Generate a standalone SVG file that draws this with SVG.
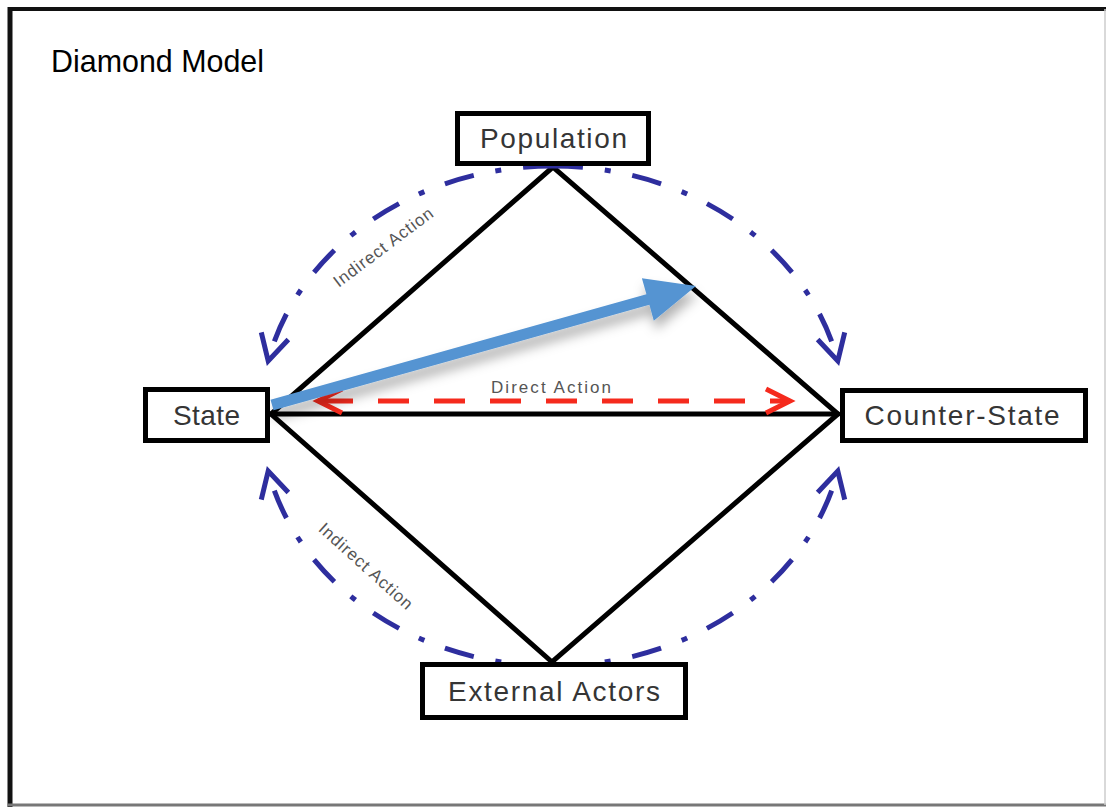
<svg xmlns="http://www.w3.org/2000/svg" width="1106" height="807" viewBox="0 0 1106 807">
  <style>
    .box { fill: #ffffff; stroke: #000000; stroke-width: 5; }
    .lbl { font-family: "Liberation Sans", Arial, sans-serif; font-size: 28px; fill: #353535; text-anchor: middle; }
    .small { font-family: "Liberation Sans", Arial, sans-serif; font-size: 17px; fill: #555555; text-anchor: middle; }
    .edge { stroke: #000000; stroke-width: 5; fill: none; stroke-linecap: round; }
    .indirect { stroke: #2e2e9e; stroke-width: 5; fill: none; stroke-dasharray: 30 22 6 22; }
    .direct { stroke: #f52a1d; stroke-width: 5; fill: none; stroke-dasharray: 31 25; }
    .redhead { stroke: #f52a1d; stroke-width: 5; fill: none; }
  </style>
  <defs>
    <marker id="blueHead" markerUnits="userSpaceOnUse" markerWidth="60" markerHeight="60" refX="0" refY="0" orient="auto" overflow="visible">
      <path d="M -26 -14 L 0 0 L -26 14" fill="none" stroke="#2e2e9e" stroke-width="5"/>
    </marker>
    <filter id="shadow" x="-20%" y="-50%" width="140%" height="200%">
      <feDropShadow dx="2" dy="9" stdDeviation="6" flood-color="#000000" flood-opacity="0.3"/>
    </filter>
  </defs>

  <rect x="0" y="0" width="1106" height="807" fill="#ffffff"/>

  <!-- frame -->
  <g id="frame">
    <line x1="8" y1="9" x2="1106" y2="9" stroke="#111111" stroke-width="4"/>
    <line x1="10" y1="7" x2="10" y2="807" stroke="#111111" stroke-width="5"/>
    <line x1="8" y1="805" x2="1106" y2="805" stroke="#777777" stroke-width="3"/>
    <line x1="1105" y1="9" x2="1105" y2="805" stroke="#cccccc" stroke-width="1.5"/>
  </g>

  <text x="51" y="72" font-family="'Liberation Sans', Arial, sans-serif" font-size="32" fill="#000000" textLength="213" lengthAdjust="spacingAndGlyphs">Diamond Model</text>

  <g id="connectors">
    <!-- diamond edges -->
    <path class="edge" d="M 553 167 L 271 414 L 552 662 L 838 414 Z"/>
    <line class="edge" x1="271" y1="414" x2="838" y2="414"/>

    <!-- indirect action arcs -->
    <path class="indirect" d="M 553 166 A 292 250 0 0 0 268.2 361" marker-end="url(#blueHead)"/>
    <path class="indirect" d="M 553 166 A 292 250 0 0 1 837.8 361" marker-end="url(#blueHead)"/>
    <path class="indirect" d="M 553 666 A 292 250 0 0 1 268.2 471" marker-end="url(#blueHead)"/>
    <path class="indirect" d="M 553 666 A 292 250 0 0 0 837.8 471" marker-end="url(#blueHead)"/>

    <!-- direct action -->
    <line class="direct" x1="322" y1="401" x2="790" y2="401"/>
    <path class="redhead" d="M 342 389 L 318 401 L 342 413"/>
    <path class="redhead" d="M 766 389 L 790 401 L 766 413"/>

    <!-- blue thick arrow -->
    <polygon filter="url(#shadow)" fill="#5594d2" points="270.5,399.7 646.4,294.2 641.9,278.3 696,286 653.8,320.7 649.4,304.8 273.5,410.3"/>

    <text class="small" x="551" y="393" textLength="120" lengthAdjust="spacing">Direct Action</text>
    <text class="small" transform="translate(383,247) rotate(-37)" x="0" y="6" textLength="120" lengthAdjust="spacing">Indirect Action</text>
    <text class="small" transform="translate(366,566) rotate(42)" x="0" y="6" textLength="120" lengthAdjust="spacing">Indirect Action</text>
  </g>

  <g id="population">
    <rect class="box" x="457.5" y="113.5" width="191" height="50"/>
    <text class="lbl" x="553.5" y="148" textLength="147" lengthAdjust="spacing">Population</text>
  </g>
  <g id="state">
    <rect class="box" x="145.5" y="389.5" width="122" height="51"/>
    <text class="lbl" x="206.5" y="425" textLength="67" lengthAdjust="spacing">State</text>
  </g>
  <g id="counter-state">
    <rect class="box" x="842.5" y="390.5" width="243" height="50"/>
    <text class="lbl" x="962" y="425" textLength="195" lengthAdjust="spacing">Counter-State</text>
  </g>
  <g id="external-actors">
    <rect class="box" x="422.5" y="664.5" width="263" height="53"/>
    <text class="lbl" x="554" y="701" textLength="212" lengthAdjust="spacing">External Actors</text>
  </g>
</svg>
